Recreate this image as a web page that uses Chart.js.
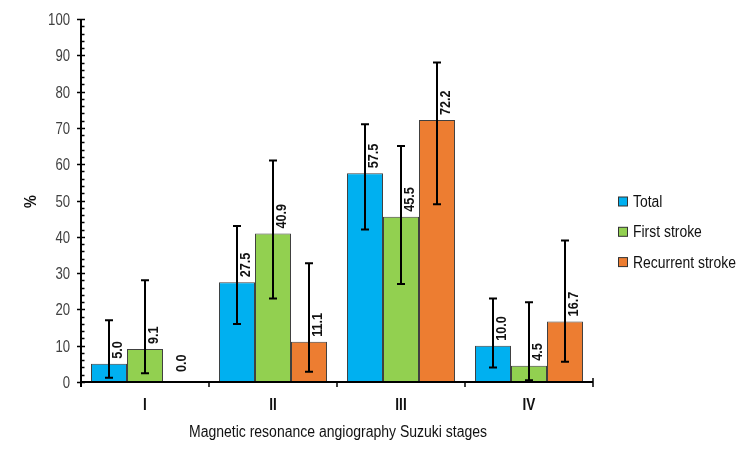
<!DOCTYPE html>
<html>
<head>
<meta charset="utf-8">
<script src="https://cdn.jsdelivr.net/npm/chart.js@4/dist/chart.umd.min.js"></script>
<style>
html,body{margin:0;padding:0;background:#fff;}
#wrap{width:756px;height:462px;}
</style>
</head>
<body>
<div id="wrap"><canvas id="c" width="756" height="462"></canvas></div>
<script>
const categories = ['I', 'II', 'III', 'IV'];
const seriesNames = ['Total', 'First stroke', 'Recurrent stroke'];
const totalValues = [5.0, 27.5, 57.5, 10.0];
const firstValues = [9.1, 40.9, 45.5, 4.5];
const recurrentValues = [0.0, 11.1, 72.2, 16.7];
const totalLow = [1.2, 16, 42, 4];
const totalHigh = [17, 43, 71, 23];
const firstLow = [2.4, 23, 27, 0.5];
const firstHigh = [28, 61, 65, 22];
const recurrentLow = [null, 2.8, 49, 5.6];
const recurrentHigh = [null, 32.7, 88, 39];
const yTicks = [0, 10, 20, 30, 40, 50, 60, 70, 80, 90, 100];
const xTitle = 'Magnetic resonance angiography Suzuki stages';
const yTitle = '%';

const FONT = "'Liberation Sans', Arial, sans-serif";
const colors = ['#00B0F0', '#92D050', '#ED7D31'];
const lows = [totalLow, firstLow, recurrentLow];
const highs = [totalHigh, firstHigh, recurrentHigh];

function txt(ctx, s, x, y, o) {
  ctx.save();
  ctx.translate(x, y);
  if (o.rot) ctx.rotate(o.rot);
  ctx.scale(o.sx || 1, 1);
  ctx.font = o.font;
  ctx.fillStyle = o.color || '#111';
  ctx.textAlign = o.align || 'left';
  ctx.textBaseline = o.baseline || 'alphabetic';
  ctx.fillText(s, 0, 0);
  ctx.restore();
}

const overlay = {
  id: 'overlay',
  afterDatasetsDraw(chart) {
    const ctx = chart.ctx;
    const ys = chart.scales.y, xs = chart.scales.x;
    const ca = chart.chartArea;
    ctx.save();
    // error bars
    ctx.strokeStyle = '#000';
    ctx.lineWidth = 2;
    chart.data.datasets.forEach((ds, i) => {
      const meta = chart.getDatasetMeta(i);
      meta.data.forEach((el, j) => {
        const lo = lows[i][j], hi = highs[i][j];
        if (lo === null || hi === null) return;
        const yl = ys.getPixelForValue(lo), yh = ys.getPixelForValue(hi);
        const x = Math.round(el.x);
        ctx.beginPath();
        ctx.moveTo(x, yl); ctx.lineTo(x, yh);
        ctx.moveTo(x - 4, yl); ctx.lineTo(x + 4, yl);
        ctx.moveTo(x - 4, yh); ctx.lineTo(x + 4, yh);
        ctx.stroke();
      });
    });
    // value labels
    chart.data.datasets.forEach((ds, i) => {
      const meta = chart.getDatasetMeta(i);
      meta.data.forEach((el, j) => {
        const v = ds.data[j];
        const hasErr = lows[i][j] !== null;
        const x = el.x + (hasErr ? 9.5 : 1);
        const y = ys.getPixelForValue(v) - (hasErr ? 5 : 10);
        txt(ctx, v.toFixed(1), x, y, { font: 'bold 14px ' + FONT, sx: 0.9, rot: -Math.PI / 2, baseline: 'middle' });
      });
    });
    // axes
    ctx.strokeStyle = '#000';
    ctx.lineWidth = 2;
    const x0 = ca.left, y0 = ys.getPixelForValue(0);
    ctx.beginPath();
    ctx.moveTo(x0, ys.getPixelForValue(100)); ctx.lineTo(x0, y0 + 5);
    ctx.moveTo(x0 - 1, y0); ctx.lineTo(ca.right, y0);
    ctx.stroke();
    ctx.lineWidth = 1.5;
    ctx.beginPath();
    for (let v = 0; v <= 100; v += 2) {
      const y = Math.round(ys.getPixelForValue(v)) + 0.5;
      if (v % 10 === 0) { ctx.moveTo(x0 - 4, y); ctx.lineTo(x0 + 4, y); }
      else { ctx.moveTo(x0, y); ctx.lineTo(x0 + 3.5, y); }
    }
    const n = categories.length;
    for (let k = 1; k <= n; k++) {
      const xb = Math.round(ca.left + (ca.right - ca.left) * k / n);
      ctx.moveTo(xb, y0 + 5); ctx.lineTo(xb, k === n ? y0 - 4 : y0);
    }
    ctx.stroke();
    // y tick labels
    yTicks.forEach(v => {
      txt(ctx, String(v), x0 - 11, ys.getPixelForValue(v) + 6, { font: '16px ' + FONT, sx: 0.82, align: 'right', color: '#404040' });
    });
    // x tick labels
    categories.forEach((c, j) => {
      txt(ctx, c, xs.getPixelForValue(j), y0 + 28, { font: 'bold 16px ' + FONT, sx: 0.85, align: 'center' });
    });
    // axis titles
    txt(ctx, xTitle, (ca.left + ca.right) / 2 + 1, 437, { font: '16px ' + FONT, sx: 0.875, align: 'center' });
    txt(ctx, yTitle, 32, (ca.top + ca.bottom) / 2 + 1, { font: 'bold 16px ' + FONT, sx: 0.9, align: 'center', baseline: 'middle', rot: -Math.PI / 2 });
    // legend
    seriesNames.forEach((name, i) => {
      const cy = 201.5 + i * 30.3;
      ctx.fillStyle = colors[i];
      ctx.fillRect(618.5, cy - 4.5, 9, 9);
      ctx.strokeStyle = '#333';
      ctx.lineWidth = 1;
      ctx.strokeRect(618.5, cy - 4.5, 9, 9);
      txt(ctx, name, 633, cy + 5.5, { font: '16px ' + FONT, sx: 0.87 });
    });
    ctx.restore();
  }
};

const datasetValues = [totalValues, firstValues, recurrentValues];
new Chart(document.getElementById('c'), {
  type: 'bar',
  data: {
    labels: categories,
    datasets: seriesNames.map((name, i) => ({
      label: name,
      data: datasetValues[i],
      backgroundColor: colors[i],
      borderColor: '#404040',
      borderWidth: 1,
      borderSkipped: 'bottom',
      categoryPercentage: 0.844,
      barPercentage: 1.0
    }))
  },
  options: {
    responsive: false,
    animation: false,
    devicePixelRatio: 1,
    layout: { padding: { left: 0, right: 163, top: 19, bottom: 0 } },
    plugins: { legend: { display: false }, tooltip: { enabled: false } },
    scales: {
      x: {
        grid: { display: false },
        border: { display: false },
        ticks: { display: false },
        afterFit(s) { s.height = 80; }
      },
      y: {
        min: 0, max: 100,
        afterBuildTicks(s) { s.ticks = yTicks.map(v => ({ value: v })); },
        grid: { display: false },
        border: { display: false },
        ticks: { display: false },
        afterFit(s) { s.width = 81; }
      }
    }
  },
  plugins: [overlay]
});
</script>
</body>
</html>
